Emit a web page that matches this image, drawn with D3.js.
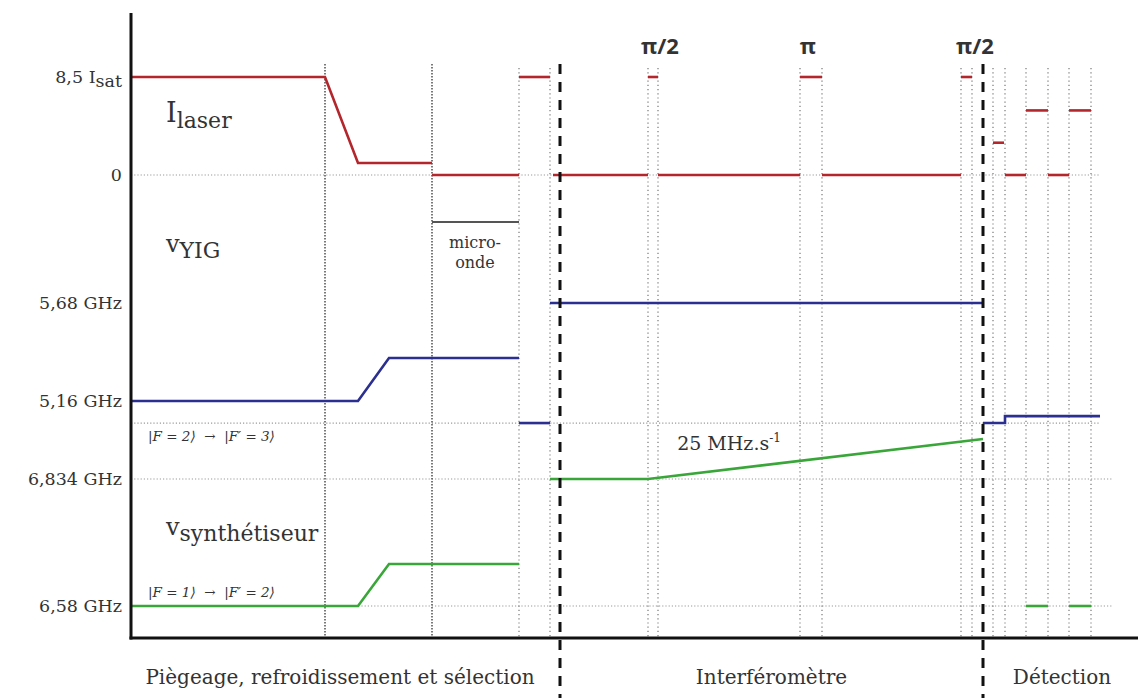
<!DOCTYPE html>
<html>
<head>
<meta charset="utf-8">
<script src="https://cdn.jsdelivr.net/npm/d3@7"></script>
<style>
  body { margin: 0; background: #fff; }
  text { font-family: "DejaVu Serif", serif; fill: #333; }
</style>
</head>
<body>
<svg id="svg1" width="1138" height="698"></svg>
<script>
// time is in arbitrary units along the sequence
var laserSegments = [
  [[0, 8.5], [194, 8.5], [227, 1.04], [301, 1.04]],
  [[301, 0], [388, 0]],
  [[388, 8.5], [419, 8.5]],
  [[422, 0], [517, 0]],
  [[517, 8.5], [527, 8.5]],
  [[527, 0], [669, 0]],
  [[669, 8.5], [691, 8.5]],
  [[691, 0], [830, 0]],
  [[830, 8.5], [841, 8.5]],
  [[862, 2.8], [873, 2.8]],
  [[874, 0], [895, 0]],
  [[895, 5.6], [917, 5.6]],
  [[917, 0], [938, 0]],
  [[938, 5.6], [960, 5.6]]
];
var yigSegments = [
  [[0, 5.16], [227, 5.16], [258, 5.388], [388, 5.388]],
  [[388, 5.043], [419, 5.043]],
  [[419, 5.68], [852, 5.68]],
  [[852, 5.043], [874, 5.043], [874, 5.08], [969, 5.08]]
];
var synthSegments = [
  [[0, 6.58], [227, 6.58], [258, 6.664], [388, 6.664]],
  [[419, 6.834], [517, 6.834], [852, 6.914]],
  [[895, 6.58], [917, 6.58]],
  [[938, 6.58], [960, 6.58]]
];
var microwave = [[301, 388]];

var stepMarks = [194, 301];
var pulseMarks = [388, 419, 517, 527, 669, 691, 830, 841, 862, 874, 895, 917, 938, 960];
var phaseBounds = [429, 852];

var pulseLabels = [
  {t: 529, label: "π/2"},
  {t: 677, label: "π"},
  {t: 844, label: "π/2"}
];
var phaseLabels = [
  {from: 0, to: 418, label: "Piègeage, refroidissement et sélection"},
  {from: 429, to: 852, label: "Interféromètre"},
  {from: 852, to: 1010, label: "Détection"}
];

var laserTicks = [{v: 8.5, label: "8,5 I", sub: "sat"}, {v: 0, label: "0"}];
var yigTicks = [{v: 5.68, label: "5,68 GHz"}, {v: 5.16, label: "5,16 GHz"}];
var synthTicks = [{v: 6.834, label: "6,834 GHz"}, {v: 6.58, label: "6,58 GHz"}];
var yigResonance = 5.043;

var red = "#b3262c", blue = "#2b2f8f", green = "#3aa63a";

var svg = d3.select("svg#svg1");

var x = d3.scaleLinear().domain([0, 1007]).range([131, 1138]);
var yLaser = d3.scaleLinear().domain([0, 8.5]).range([175, 77]);
var yYig = d3.scaleLinear().domain([5.16, 5.68]).range([401, 303]);
var ySynth = d3.scaleLinear().domain([6.58, 6.834]).range([606, 479]);

var axisY = 638;

/* horizontal dotted guides */
var guides = [
  {y: yLaser(0), end: 969},
  {y: yYig(yigResonance), end: 969},
  {y: ySynth(6.834), end: 982},
  {y: ySynth(6.58), end: 982}
];
svg.append("g").selectAll("line")
  .data(guides)
  .enter().append("line")
  .attr("x1", x(0)).attr("x2", function(d) { return x(d.end); })
  .attr("y1", function(d) { return d.y; }).attr("y2", function(d) { return d.y; })
  .attr("stroke", "#9a9a9a").attr("stroke-width", 1.2)
  .attr("stroke-dasharray", "1.2,2");

/* vertical markers */
svg.append("g").selectAll("line")
  .data(stepMarks)
  .enter().append("line")
  .attr("x1", x).attr("x2", x)
  .attr("y1", 64).attr("y2", axisY)
  .attr("stroke", "#333").attr("stroke-width", 1.3)
  .attr("stroke-dasharray", "1.5,1.5");

svg.append("g").selectAll("line")
  .data(pulseMarks)
  .enter().append("line")
  .attr("x1", x).attr("x2", x)
  .attr("y1", 68).attr("y2", axisY)
  .attr("stroke", "#777").attr("stroke-width", 1.2)
  .attr("stroke-dasharray", "1.2,3");

/* traces */
var line = function(yScale) {
  return d3.line()
    .x(function(d) { return x(d[0]); })
    .y(function(d) { return yScale(d[1]); });
};

var drawTrace = function(data, yScale, color) {
  svg.append("g").selectAll("path")
    .data(data)
    .enter().append("path")
    .attr("d", line(yScale))
    .attr("fill", "none")
    .attr("stroke", color)
    .attr("stroke-width", 2.6);
};

drawTrace(laserSegments, yLaser, red);
drawTrace(yigSegments, yYig, blue);
drawTrace(synthSegments, ySynth, green);

svg.append("g").selectAll("line")
  .data(microwave)
  .enter().append("line")
  .attr("x1", function(d) { return x(d[0]); })
  .attr("x2", function(d) { return x(d[1]); })
  .attr("y1", 222).attr("y2", 222)
  .attr("stroke", "#555").attr("stroke-width", 2);

svg.append("text")
  .attr("x", x(344)).attr("y", 248)
  .attr("text-anchor", "middle").style("font-size", "16px")
  .text("micro-");
svg.append("text")
  .attr("x", x(344)).attr("y", 268)
  .attr("text-anchor", "middle").style("font-size", "16px")
  .text("onde");

/* phase separators */
svg.append("g").selectAll("line")
  .data(phaseBounds)
  .enter().append("line")
  .attr("x1", x).attr("x2", x)
  .attr("y1", 64).attr("y2", 698)
  .attr("stroke", "#111").attr("stroke-width", 3)
  .attr("stroke-dasharray", "10,8");

/* axes */
svg.append("line")
  .attr("x1", x(0)).attr("x2", x(0))
  .attr("y1", 13).attr("y2", axisY + 1.5)
  .attr("stroke", "#111").attr("stroke-width", 3);
svg.append("line")
  .attr("x1", x(0) - 1.5).attr("x2", x(1007))
  .attr("y1", axisY).attr("y2", axisY)
  .attr("stroke", "#111").attr("stroke-width", 3);

/* y labels */
var drawTicks = function(ticks, yScale) {
  var t = svg.append("g").selectAll("text")
    .data(ticks)
    .enter().append("text")
    .attr("x", 122)
    .attr("y", function(d) { return yScale(d.v); })
    .attr("dy", "0.36em")
    .attr("text-anchor", "end")
    .style("font-size", "17.5px");
  t.append("tspan").text(function(d) { return d.label; });
  t.filter(function(d) { return d.sub; })
    .append("tspan")
    .attr("dy", 4)
    .text(function(d) { return d.sub; });
};
drawTicks(laserTicks, yLaser);
drawTicks(yigTicks, yYig);
drawTicks(synthTicks, ySynth);

/* signal names */
var names = [
  {y: 122, main: "I", sub: "laser", size: 27},
  {y: 252, main: "v", sub: "YIG", size: 24},
  {y: 535, main: "v", sub: "synthétiseur", size: 24}
];
var nm = svg.append("g").selectAll("text")
  .data(names)
  .enter().append("text")
  .attr("x", 166)
  .attr("y", function(d) { return d.y; })
  .style("font-size", function(d) { return d.size + "px"; });
nm.append("tspan").text(function(d) { return d.main; });
nm.append("tspan").attr("dy", 6).style("font-size", "22px")
  .text(function(d) { return d.sub; });

/* transitions */
var transitions = [
  {y: yYig(yigResonance) + 18, label: "|F = 2⟩  →  |F′ = 3⟩"},
  {y: ySynth(6.58) - 9, label: "|F = 1⟩  →  |F′ = 2⟩"}
];
svg.append("g").selectAll("text")
  .data(transitions)
  .enter().append("text")
  .attr("x", 148)
  .attr("y", function(d) { return d.y; })
  .style("font-size", "13.5px")
  .style("font-style", "italic")
  .style("white-space", "pre")
  .text(function(d) { return d.label; });

/* ramp rate */
var rate = svg.append("text")
  .attr("x", x(598)).attr("y", 450)
  .attr("text-anchor", "middle")
  .style("font-size", "19px");
rate.append("tspan").text("25 MHz.s");
rate.append("tspan").attr("dy", -8).style("font-size", "12px").text("-1");

/* pulse labels */
svg.append("g").selectAll("text")
  .data(pulseLabels)
  .enter().append("text")
  .attr("x", function(d) { return x(d.t); })
  .attr("y", 54)
  .attr("text-anchor", "middle")
  .style("font-family", "'Open Sans', sans-serif")
  .style("font-weight", "bold")
  .style("font-size", "22px")
  .text(function(d) { return d.label; });

/* phase labels */
svg.append("g").selectAll("text")
  .data(phaseLabels)
  .enter().append("text")
  .attr("x", function(d) { return x((d.from + d.to) / 2); })
  .attr("y", 684)
  .attr("text-anchor", "middle")
  .style("font-size", "20px")
  .text(function(d) { return d.label; });
</script>
</body>
</html>
